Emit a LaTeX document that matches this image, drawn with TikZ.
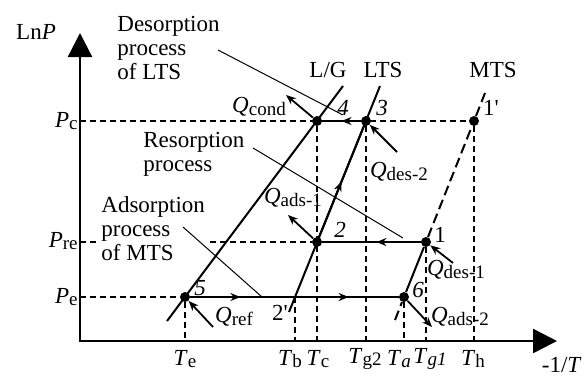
\documentclass[tikz,border=0pt]{standalone}
\usepackage{fontspec}
\setmainfont{Liberation Serif}
\usetikzlibrary{arrows.meta,calc,decorations.markings}

\newcommand{\lowsub}[1]{\raisebox{-1.2pt}{\fontsize{9.5}{9.5}\selectfont #1}}
\newcommand{\hq}[1]{\textit{Q}\lowsub{#1}}
\newcommand{\tlab}[1]{\textit{T}\lowsub{#1}}
\newcommand{\plab}[1]{\textit{P}\lowsub{#1}}

\begin{document}
\begin{tikzpicture}[
    x=0.5pt, y=-0.5pt,
    txt/.style={font=\fontsize{11.5}{12}\selectfont, inner sep=0pt},
    note/.style={txt, align=left, anchor=north west},
    dot/.style={circle, fill, inner sep=0pt, minimum size=5pt},
    axis/.style={line width=1.2pt, {Triangle[length=12pt,width=12pt]}-{Triangle[length=12pt,width=12pt]}},
    curve/.style={line width=1pt},
    dashcurve/.style={line width=1pt, dash pattern=on 5pt off 2.5pt},
    guide/.style={line width=0.7pt, dash pattern=on 3pt off 2pt},
    leader/.style={line width=0.5pt},
    heat/.style={line width=0.9pt, -{Stealth[length=5pt,width=4pt]}},
    midarrow/.style={postaction={decorate, decoration={markings, mark=at position #1 with {\arrow{Stealth[length=5pt,width=4pt]}}}}}
]
\useasboundingbox (0,0) rectangle (587,376);

% axes
\coordinate (o) at (80,341);
\coordinate (ytop) at (80,33);
\coordinate (xend) at (557,341);
\draw[axis] (ytop) -- (o) -- (xend);
\node[txt] (lnp) at (36,32) {Ln\textit{P}};
\node[txt, anchor=east] (invt) at (582,365) {-1/\textit{T}};

% state points
\node[dot] (p5) at (185,297) {};
\node[dot] (p6) at (404,297) {};
\node[dot] (p2) at (317,242) {};
\node[dot] (p1) at (426,242) {};
\node[dot] (p4) at (317,121) {};
\node[dot] (p3) at (366,121) {};
\node[dot] (p1b) at (474,121) {};
\coordinate (p2b) at (295,297);

% dashed guides
\draw[guide] (o |- p1b) -- (p1b);
\draw[guide] (o |- p2) -- (p2);
\draw[guide] (o |- p5) -- (p5);
\foreach \p in {p5,p2b,p4,p3,p6,p1,p1b}
    \draw[guide] (\p) -- (\p |- o);

\node[txt, anchor=east] (pc) at (78,121) {\plab{c}};
\node[txt, anchor=east] (pre) at (78,241) {\plab{re}};
\node[txt, anchor=east] (pe) at (78,297) {\plab{e}};
\node[txt] (te) at (185,359) {\tlab{e}};
\node[txt] (tb) at (290,359) {\tlab{b}};
\node[txt] (tc) at (318,359) {\tlab{c}};
\node[txt] (tg2) at (365,359) {\tlab{g2}};
\node[txt] (ta) at (399,359) {\tlab{\textit{a}}};
\node[txt] (tg1) at (430,359) {\tlab{\textit{g1}}};
\node[txt] (th) at (473,359) {\tlab{h}};

% process notes
\node[note] (deslts) at (117,16) {Desorption\\process\\of LTS};
\node[note] (resorp) at (143,132) {Resorption\\process};
\node[note, fill=white, inner sep=1pt] (adsmts) at (99,194) {Adsorption\\process\\of MTS};
\coordinate (desA) at (218,50);
\coordinate (desB) at (343,115);
\coordinate (resA) at (253,148);
\coordinate (resB) at (403,238);
\coordinate (adsA) at (183,227);
\coordinate (adsB) at (262,297);
\draw[leader] (desA) -- (desB);
\draw[leader] (resA) -- (resB);
\draw[leader] (adsA) -- (adsB);

% equilibrium lines
\coordinate (lglo) at (167,321);
\coordinate (lghi) at (343,86);
\coordinate (ltslo) at (289,312);
\coordinate (ltshi) at (380,86);
\coordinate (mtslo) at (395,320);
\coordinate (mtshi) at (485,93);
\draw[curve] (lglo) -- (lghi);
\draw[curve] (ltslo) -- (ltshi);
\draw[dashcurve] (mtslo) -- (p6);
\draw[curve] (p6) -- (p1);
\draw[dashcurve] (p1) -- (p1b) -- (mtshi);
\node[txt] (lg) at (328,70) {L/G};
\node[txt] (lts) at (383,70) {LTS};
\node[txt] (mts) at (493,70) {MTS};

% cycle
\draw[curve, midarrow=0.5] (p2) -- (p3);
\draw[curve, midarrow=0.5] (p3) -- (p4);
\draw[curve, midarrow=0.45] (p1) -- (p2);
\draw[curve, midarrow=0.24, midarrow=0.76] (p5) -- (p6);

\node[txt] (n4) at (343,108) {\textit{4}};
\node[txt] (n3) at (382,108) {\textit{3}};
\node[txt] (n1b) at (491,108) {1\textquotesingle};
\node[txt] (n2) at (340,230) {\textit{2}};
\node[txt] (n1) at (440,235) {1};
\node[txt] (n6) at (418,290) {\textit{6}};
\node[txt] (n5) at (200,288) {\textit{5}};
\node[txt] (n2b) at (280,313) {2\textquotesingle};

% heat flows
\coordinate (qcondend) at (286,95);
\coordinate (qdes2start) at (397,152);
\coordinate (qads1end) at (288,215);
\coordinate (qdes1start) at (453,263);
\coordinate (qads2end) at (432,327);
\coordinate (qrefstart) at (213,327);
\draw[heat] (p4) -- (qcondend);
\draw[heat] (qdes2start) -- (p3);
\draw[heat] (p2) -- (qads1end);
\draw[heat] (qdes1start) -- (p1);
\draw[heat] (p6) -- (qads2end);
\draw[heat] (qrefstart) -- (p5);
\node[txt] (qcond) at (259,107) {\hq{cond}};
\node[txt] (qdes2) at (399,172) {\hq{des-2}};
\node[txt] (qads1) at (293,198) {\hq{ads-1}};
\node[txt] (qdes1) at (456,270) {\hq{des-1}};
\node[txt] (qads2) at (460,317) {\hq{ads-2}};
\node[txt] (qref) at (234,317) {\hq{ref}};
\end{tikzpicture}
\end{document}
